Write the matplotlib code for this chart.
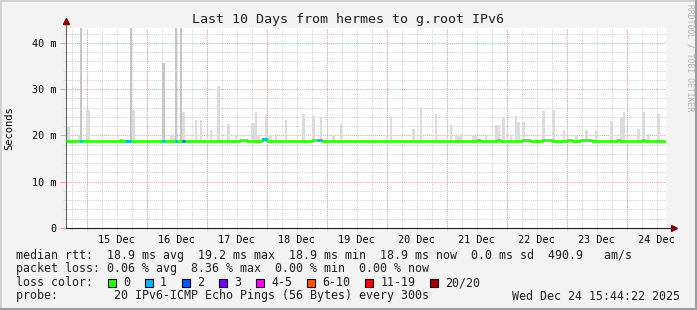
import pandas as pd
import matplotlib
matplotlib.use('Agg')
import matplotlib.pyplot as plt
import matplotlib.dates as mdates
from matplotlib.ticker import MultipleLocator, FuncFormatter
from matplotlib.patches import Rectangle
from matplotlib.lines import Line2D

# graph window
t_start = '12-14 15:44:22'
t_end = '12-24 15:44:22'

# smoke spikes (light grey), upper end in ms
light_start = ['12-14 15:44', '12-14 20:31', '12-14 23:43', '12-15 17:43', '12-16 09:19',
               '12-16 14:07', '12-16 19:19', '12-16 21:19', '12-17 01:19', '12-17 04:07',
               '12-17 08:07', '12-17 11:19', '12-17 17:43', '12-17 19:19', '12-17 20:07',
               '12-17 23:19', '12-18 00:07', '12-18 03:19', '12-18 07:19', '12-18 14:07',
               '12-18 18:07', '12-18 21:19', '12-19 02:07', '12-19 05:19', '12-20 01:19',
               '12-20 10:07', '12-20 13:19', '12-20 19:19', '12-21 01:19', '12-21 03:19',
               '12-21 05:19', '12-21 10:07', '12-21 15:19', '12-21 19:19', '12-21 22:07',
               '12-22 01:19', '12-22 03:19', '12-22 04:07', '12-22 06:07', '12-22 14:07',
               '12-22 18:07', '12-22 22:31', '12-23 03:19', '12-23 07:19', '12-23 11:19',
               '12-23 17:19', '12-23 21:19', '12-23 22:31', '12-24 04:07', '12-24 06:07',
               '12-24 08:07', '12-24 12:07']
light_end = ['12-14 17:19', '12-14 21:19', '12-15 01:19', '12-15 19:19', '12-16 11:19',
             '12-16 15:19', '12-16 20:07', '12-16 22:07', '12-17 02:07', '12-17 05:19',
             '12-17 09:19', '12-17 12:07', '12-17 19:19', '12-17 20:07', '12-17 21:19',
             '12-18 00:07', '12-18 02:07', '12-18 04:07', '12-18 08:07', '12-18 15:19',
             '12-18 19:19', '12-18 22:07', '12-19 03:19', '12-19 06:07', '12-20 02:07',
             '12-20 11:19', '12-20 14:07', '12-20 20:07', '12-21 02:07', '12-21 05:19',
             '12-21 06:07', '12-21 12:07', '12-21 16:07', '12-21 21:19', '12-21 23:19',
             '12-22 02:07', '12-22 04:07', '12-22 05:19', '12-22 07:19', '12-22 15:19',
             '12-22 19:19', '12-22 23:19', '12-23 04:31', '12-23 08:31', '12-23 12:31',
             '12-23 18:31', '12-23 22:31', '12-23 23:19', '12-24 05:19', '12-24 07:19',
             '12-24 09:19', '12-24 13:19']
light_top = [21.9, 20.1, 25.5, 25.5, 19.9, 25.1, 23.4, 23.4, 21.2, 30.6,
             22.5, 20.2, 22.6, 25.1, 20.2, 24.6, 20.2, 20.4, 23.4, 24.6,
             24.3, 24.0, 20.2, 22.4, 23.9, 21.5, 26.2, 24.7, 22.3, 19.8,
             20.4, 19.9, 19.9, 22.3, 24.0, 20.1, 24.3, 23.0, 23.0, 25.2,
             25.5, 21.2, 19.9, 21.1, 21.0, 23.1, 24.0, 25.1, 21.5, 25.1,
             20.4, 24.6]

# darker smoke (outliers)
dark_start = ['12-14 21:19', '12-15 17:19', '12-16 06:07', '12-16 11:19', '12-16 13:19']
dark_end = ['12-14 22:07', '12-15 18:07', '12-16 07:19', '12-16 12:07', '12-16 14:07']
dark_top = [44.0, 44.0, 35.7, 44.0, 44.0]

# median rtt (ms), step changes
median_times = ['12-14 15:44', '12-15 13:19', '12-15 14:07', '12-17 13:19', '12-17 16:07',
                '12-17 22:07', '12-18 00:07', '12-18 18:07', '12-18 22:07', '12-21 12:07',
                '12-21 13:19', '12-21 20:07', '12-21 21:19', '12-22 06:07', '12-22 09:19',
                '12-22 14:07', '12-22 18:07', '12-23 00:19', '12-23 02:19', '12-23 05:19',
                '12-23 10:07', '12-23 20:07', '12-23 21:19', '12-24 06:07', '12-24 07:19',
                '12-24 15:44']
median_ms = [18.9, 19.0, 18.9, 19.0, 18.9, 19.2, 18.9, 19.0, 18.9, 19.0,
             18.9, 19.0, 18.9, 19.0, 18.9, 19.0, 18.9, 19.0, 18.9, 19.0,
             18.9, 19.0, 18.9, 19.0, 18.9, 18.9]

# packet loss periods (lost pings of 20)
loss_start = ['12-14 21:19', '12-15 15:19', '12-16 06:07', '12-16 11:19', '12-16 14:07',
              '12-17 22:07', '12-18 20:07']
loss_end = ['12-14 22:07', '12-15 17:43', '12-16 07:19', '12-16 12:07', '12-16 15:19',
            '12-18 00:07', '12-18 22:07']
loss_count = [1, 1, 1, 1, 2, 1, 1]

loss_labels = ['0', '1', '2', '3', '4-5', '6-10', '11-19', '20/20']
loss_colors = ['#26ff00', '#00b8ff', '#0059ff', '#7e00ff', '#ff00ff', '#ff5500', '#ff0000', '#a00000']


def to_time(values):
    return pd.to_datetime(['2025-' + v for v in values], format='mixed')


W, H = 697, 310
MONO = 'DejaVu Sans Mono'


def fx(px):
    return px / W


def fy(py):
    return 1 - py / H


fig = plt.figure(figsize=(W / 100, H / 100), dpi=100, facecolor='#f3f3f3')
ax = fig.add_axes([fx(66), fy(228), 600 / W, 200 / H])
ax.set_facecolor('white')

x0, x1 = to_time([t_start, t_end])
ax.set_xlim(x0, x1)
ax.set_ylim(0, 43.24)

# smoke
ls, le = to_time(light_start), to_time(light_end)
base = 18.6
ax.bar(ls, [h - base for h in light_top], width=(le - ls) / pd.Timedelta(days=1),
       bottom=base, align='edge', color='#dcdcdc', linewidth=0, zorder=2)
ds, de = to_time(dark_start), to_time(dark_end)
ax.bar(ds, [h - base for h in dark_top], width=(de - ds) / pd.Timedelta(days=1),
       bottom=base, align='edge', color='#c6c6c6', linewidth=0, zorder=2)

# median line coloured by loss
med = pd.Series(median_ms, index=to_time(median_times))
ax.step(med.index, med.values, where='post', color=loss_colors[0], lw=1.9, zorder=3,
        solid_capstyle='butt')
for s, e, n in zip(to_time(loss_start), to_time(loss_end), loss_count):
    ax.hlines(med.asof(s), s, e, color=loss_colors[n], lw=1.9, zorder=4)

# grid
grid_grey = '#d2d2d2'
grid_red = '#f4a3a3'
ax.set_axisbelow(True)
ax.yaxis.set_major_locator(MultipleLocator(10))
ax.yaxis.set_minor_locator(MultipleLocator(2))
ax.xaxis.set_major_locator(mdates.HourLocator(byhour=[12]))
ax.xaxis.set_minor_locator(mdates.HourLocator(byhour=[0, 6, 12, 18]))
ax.xaxis.remove_overlapping_locs = False
ax.xaxis.set_major_formatter(mdates.DateFormatter('%d Dec'))
ax.yaxis.set_major_formatter(FuncFormatter(lambda v, p: '0' if v == 0 else f'{v:.0f} m'))
ax.grid(which='minor', color=grid_grey, ls=(0, (1, 1)), lw=0.75)
ax.grid(which='major', axis='y', color=grid_red, ls=(0, (1, 1)), lw=0.75)
for d in pd.date_range('2025-12-15', '2025-12-24', freq='D'):
    ax.axvline(d, color=grid_red, ls=(0, (1, 1)), lw=0.75, zorder=0.6)

ax.tick_params(axis='y', which='major', length=4, color=grid_red, pad=3,
               labelsize=7.3, labelfontfamily=MONO)
ax.tick_params(axis='y', which='minor', length=2, color=grid_grey)
ax.tick_params(axis='x', which='major', length=0, pad=5, labelsize=7.3,
               labelfontfamily=MONO)
ax.tick_params(axis='x', which='minor', length=2, color=grid_grey)

for side in ['top', 'right']:
    ax.spines[side].set_visible(False)
ax.spines['left'].set_color('#606060')
ax.spines['bottom'].set_color('#202020')

# axis arrows
ax.add_line(Line2D([0, 0], [1, 1.03], transform=ax.transAxes, color='#606060', lw=0.8, clip_on=False))
ax.add_line(Line2D([1, 1.01], [0, 0], transform=ax.transAxes, color='#202020', lw=0.8, clip_on=False))
ax.plot([0], [1.035], marker='^', ms=5, color='#800000', transform=ax.transAxes, clip_on=False)
ax.plot([1.013], [0], marker='>', ms=5, color='#800000', transform=ax.transAxes, clip_on=False)

ax.set_ylabel('Seconds', fontsize=7.5, family=MONO)
ax.yaxis.set_label_coords((14 - 66) / 600, 0.5)

fig.text(fx(348), fy(19), 'Last 10 Days from hermes to g.root IPv6', ha='center', va='center',
         fontsize=9.6, family=MONO, color='#202020')
fig.text(fx(690), fy(4), 'RRDTOOL / TOBI OETIKER', rotation=270, ha='center', va='top',
         fontsize=5.8, family=MONO, color='#b4b4b4')

# legend block
row_y = [255, 268.5, 282.5, 296]
txt = dict(fontsize=8.4, family=MONO, va='center', color='#202020')
fig.text(fx(16), fy(row_y[0]),
         'median rtt:  18.9 ms avg  19.2 ms max  18.9 ms min  18.9 ms now  0.0 ms sd  490.9   am/s', **txt)
fig.text(fx(16), fy(row_y[1]),
         'packet loss: 0.06 % avg  8.36 % max  0.00 % min  0.00 % now', **txt)
fig.text(fx(16), fy(row_y[2]), 'loss color:', **txt)
px = 108
for lab, col in zip(loss_labels, loss_colors):
    fig.patches.append(Rectangle((fx(px), fy(row_y[2] + 4)), 8 / W, 8 / H, transform=fig.transFigure,
                                 facecolor=col, edgecolor='black', lw=0.8))
    fig.text(fx(px + 15), fy(row_y[2]), lab, **txt)
    px += 30 + 7.02 * len(lab)
fig.text(fx(16), fy(row_y[3]), 'probe:        20 IPv6-ICMP Echo Pings (56 Bytes) every 300s', **txt)
fig.text(fx(680), fy(row_y[3]), 'Wed Dec 24 15:44:22 2025', ha='right', **txt)

# frame around the image
fig.patches.append(Rectangle((0, 0), 1, 1, transform=fig.transFigure, fill=False,
                             edgecolor='#d0d0d0', lw=2))
fig.add_artist(Line2D([1 - 1 / W, 1 - 1 / W], [0, 1], color='#9c9c9c', lw=2.2))
fig.add_artist(Line2D([0, 1], [1 / H, 1 / H], color='#9c9c9c', lw=2.2))

fig.savefig('out.png', dpi=100, facecolor=fig.get_facecolor())
